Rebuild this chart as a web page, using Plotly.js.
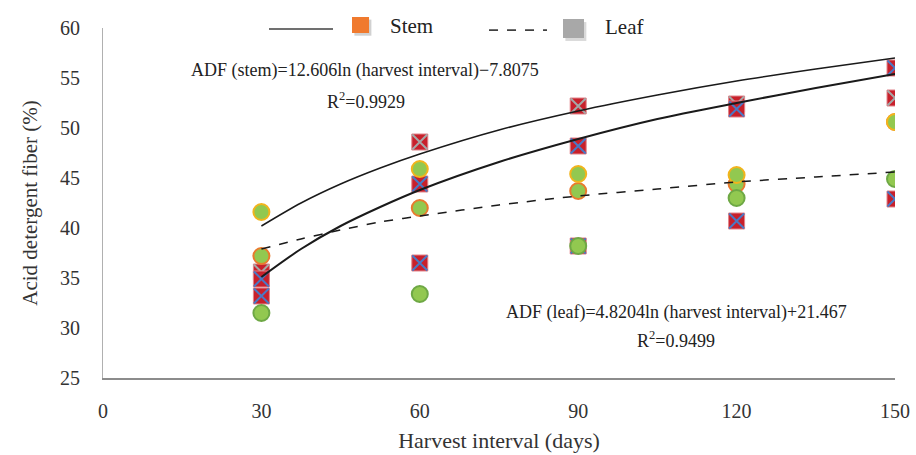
<!DOCTYPE html>
<html>
<head>
<meta charset="utf-8">
<script src="https://cdn.plot.ly/plotly-3.0.1.min.js"></script>
<style>html,body{margin:0;padding:0;background:#fff;}#chart{width:916px;height:455px;}</style>
</head>
<body>
<div id="chart"></div>
<script>
// Harvest intervals (days)
const days = [30, 60, 90, 120, 150];

// Stem ADF (%) – three replicates (red squares with cross)
const stemA = [35.6, 48.6, 52.2, 52.4, 53.0];   // grey cross
const stemB = [34.9, 44.4, 48.2, 51.9, 56.0];   // blue cross
const stemC = [33.2, 36.5, 38.2, 40.7, 42.9];   // blue cross

// Leaf ADF (%) – three replicates (green circles)
const leafOrange = [37.2, 42.0, 43.7, 44.4, 50.6];
const leafYellow = [41.6, 45.9, 45.4, 45.3, 50.6];
const leafGreen  = [31.5, 33.4, 38.2, 43.0, 44.9];

// Trend lines
const trendDays  = [30, 37.5, 45, 52.5, 60, 75, 90, 105, 120, 135, 150];
const trendUpper = [40.2, 42.5, 44.4, 46.0, 47.4, 49.8, 51.7, 53.3, 54.7, 55.9, 57.0];
const trendStem  = [35.1, 37.9, 40.2, 42.1, 43.8, 46.6, 48.9, 50.9, 52.5, 54.0, 55.4];
const trendLeaf  = [37.9, 38.9, 39.8, 40.6, 41.2, 42.3, 43.2, 43.9, 44.6, 45.1, 45.6];

const xTicks = [0, 30, 60, 90, 120, 150];
const yTicks = [25, 30, 35, 40, 45, 50, 55, 60];

const FONT = "Liberation Serif, DejaVu Serif, serif";
const RED = "#C8202B";

function stemSquares(y) {
  return {x: days, y: y, type: "scatter", mode: "markers", showlegend: false, hoverinfo: "skip",
    marker: {symbol: "square", size: 16, color: RED, line: {color: "#E0858C", width: 1}}};
}
function stemCross(y, c) {
  return {x: days, y: y, type: "scatter", mode: "markers", showlegend: false, hoverinfo: "skip",
    marker: {symbol: "x-thin-open", size: 15, color: c, line: {color: c, width: 2}}};
}
function leafCircles(y, c) {
  return {x: days, y: y, type: "scatter", mode: "markers", showlegend: false, hoverinfo: "skip",
    marker: {symbol: "circle", size: 16, color: "#92C850", line: {color: c, width: 2}}};
}
function trend(y, dash, w) {
  return {x: trendDays, y: y, type: "scatter", mode: "lines", showlegend: false, hoverinfo: "skip",
    line: {color: "#1a1a1a", width: w, dash: dash, shape: "spline", smoothing: 0.8}};
}

const data = [
  stemSquares(stemA), stemCross(stemA, "#A6A6A6"),
  stemSquares(stemB), stemCross(stemB, "#4A78C4"),
  stemSquares(stemC), stemCross(stemC, "#4A78C4"),
  leafCircles(leafOrange, "#E97A2E"),
  leafCircles(leafYellow, "#F2B41C"),
  leafCircles(leafGreen, "#6EA845"),
  trend(trendUpper, "solid", 1.5),
  trend(trendStem, "solid", 2),
  trend(trendLeaf, "dash", 1.5)
];

const layout = {
  width: 916, height: 455,
  margin: {l: 103, r: 21, t: 28, b: 77},
  paper_bgcolor: "#fff", plot_bgcolor: "#fff",
  font: {family: FONT, size: 19, color: "#333"},
  showlegend: false,
  xaxis: {
    range: [0, 150], tickvals: xTicks, ticktext: xTicks.map(String),
    showgrid: false, zeroline: false, showline: true, linecolor: "#8c8c8c", linewidth: 2,
    ticks: "", ticklabelstandoff: 14, tickfont: {family: FONT, size: 20, color: "#333"},
    title: {text: "Harvest interval (days)", font: {family: FONT, size: 22, color: "#333"}, standoff: 12}
  },
  yaxis: {
    range: [25, 60], tickvals: yTicks, ticktext: yTicks.map(String),
    showgrid: false, zeroline: false, showline: true, linecolor: "#b0b0b0", linewidth: 1,
    ticks: "", ticklabelstandoff: 18, tickfont: {family: FONT, size: 20, color: "#333"},
    title: {text: "Acid detergent fiber (%)", font: {family: FONT, size: 21, color: "#333"}, standoff: 16}
  },
  shapes: [
    {type: "line", xref: "paper", yref: "paper", x0: 0.2096, x1: 0.2904, y0: 0.997, y1: 0.997,
     line: {color: "#404040", width: 1.5}},
    {type: "rect", xref: "paper", yref: "paper", x0: 0.3174, x1: 0.3389, y0: 0.978, y1: 1.024,
     fillcolor: "rgba(0,0,0,0.18)", line: {width: 0}},
    {type: "rect", xref: "paper", yref: "paper", x0: 0.3144, x1: 0.3359, y0: 0.9857, y1: 1.0314,
     fillcolor: "#F07A2E", line: {width: 0}},
    {type: "line", xref: "paper", yref: "paper", x0: 0.4874, x1: 0.5606, y0: 0.994, y1: 0.994,
     line: {color: "#404040", width: 1.8, dash: "dash"}},
    {type: "rect", xref: "paper", yref: "paper", x0: 0.5838, x1: 0.6103, y0: 0.963, y1: 1.017,
     fillcolor: "rgba(0,0,0,0.15)", line: {width: 0}},
    {type: "rect", xref: "paper", yref: "paper", x0: 0.5808, x1: 0.6073, y0: 0.9714, y1: 1.0257,
     fillcolor: "#A8A8A8", line: {width: 0}}
  ],
  annotations: [
    {xref: "paper", yref: "paper", x: 0.3598, y: 1.0057, xanchor: "left", yanchor: "middle",
     text: "Stem", showarrow: false, font: {family: FONT, size: 21, color: "#222"}},
    {xref: "paper", yref: "paper", x: 0.6313, y: 1.003, xanchor: "left", yanchor: "middle",
     text: "Leaf", showarrow: false, font: {family: FONT, size: 21, color: "#222"}},
    {xref: "paper", yref: "paper", x: 0.3308, y: 0.88, xanchor: "center", yanchor: "middle",
     text: "ADF (stem)=12.606ln (harvest interval)−7.8075", showarrow: false,
     font: {family: FONT, size: 18, color: "#222"}},
    {xref: "paper", yref: "paper", x: 0.332, y: 0.794, xanchor: "center", yanchor: "middle",
     text: "R<sup>2</sup>=0.9929", showarrow: false, font: {family: FONT, size: 18, color: "#222"}},
    {xref: "paper", yref: "paper", x: 0.7235, y: 0.186, xanchor: "center", yanchor: "middle",
     text: "ADF (leaf)=4.8204ln (harvest interval)+21.467", showarrow: false,
     font: {family: FONT, size: 18, color: "#222"}},
    {xref: "paper", yref: "paper", x: 0.7235, y: 0.1086, xanchor: "center", yanchor: "middle",
     text: "R<sup>2</sup>=0.9499", showarrow: false, font: {family: FONT, size: 18, color: "#222"}}
  ]
};

Plotly.newPlot("chart", data, layout, {displayModeBar: false, staticPlot: true});
</script>
</body>
</html>
